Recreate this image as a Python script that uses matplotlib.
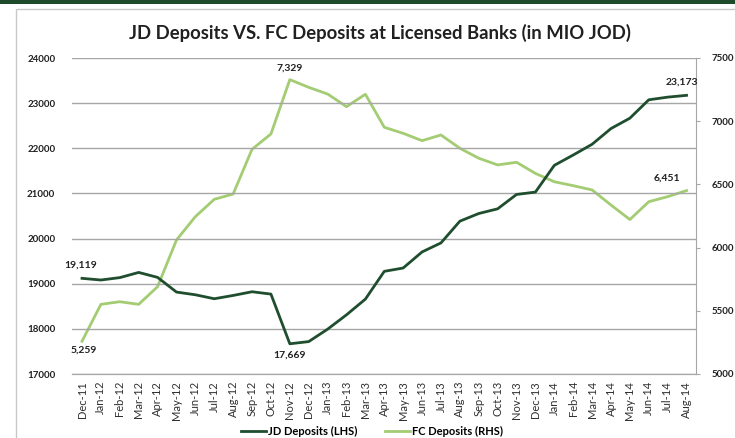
import matplotlib
matplotlib.use("Agg")
import matplotlib.pyplot as plt
from matplotlib.patches import Rectangle
from matplotlib.lines import Line2D

plt.rcParams['font.family'] = ['Lato', 'DejaVu Sans']

# meses (Dec-11 .. Aug-14)
months = ['Dec-11', 'Jan-12', 'Feb-12', 'Mar-12', 'Apr-12', 'May-12', 'Jun-12', 'Jul-12',
          'Aug-12', 'Sep-12', 'Oct-12', 'Nov-12', 'Dec-12', 'Jan-13', 'Feb-13', 'Mar-13',
          'Apr-13', 'May-13', 'Jun-13', 'Jul-13', 'Aug-13', 'Sep-13', 'Oct-13', 'Nov-13',
          'Dec-13', 'Jan-14', 'Feb-14', 'Mar-14', 'Apr-14', 'May-14', 'Jun-14', 'Jul-14',
          'Aug-14']

# JD deposits (LHS)
jd = [19119, 19082, 19135, 19250, 19140, 18815, 18755, 18667,
      18740, 18822, 18770, 17669, 17718, 17993, 18311, 18659,
      19274, 19348, 19704, 19904, 20385, 20555, 20659, 20977,
      21030, 21622, 21851, 22089, 22437, 22667, 23074, 23133,
      23173]

# FC deposits (RHS)
fc = [5259, 5551, 5572, 5551, 5691, 6060, 6245, 6382,
      6424, 6778, 6899, 7329, 7268, 7215, 7115, 7213,
      6952, 6904, 6846, 6891, 6786, 6707, 6654, 6675,
      6587, 6521, 6490, 6456, 6337, 6222, 6363, 6403,
      6451]

jd_color = '#1f4e2e'
fc_color = '#a3cc73'
x = list(range(len(months)))

fig = plt.figure(figsize=(7.35, 4.38), dpi=100)

# faixa verde no topo e moldura cinza
fig.patches.append(Rectangle((0, 1 - 4 / 438), 1, 4 / 438, transform=fig.transFigure,
                             facecolor='#1d4a2a', edgecolor='none', zorder=-5))
fig.patches.append(Rectangle((16 / 735, -0.01), 1, 1 - 9 / 438 + 0.01, transform=fig.transFigure,
                             facecolor='white', edgecolor='#c8c8c8', linewidth=1, zorder=-5))

ax = fig.add_axes([72 / 735, 1 - 374 / 438, 624 / 735, 316 / 438])
ax2 = ax.twinx()
ax.set_zorder(ax2.get_zorder() + 1)
ax.patch.set_visible(False)
ax2.patch.set_visible(False)

ax.plot(x, jd, color=jd_color, linewidth=2)
ax2.plot(x, fc, color=fc_color, linewidth=2)

ax.set_xlim(-0.53, 32.5)
ax.set_ylim(17000, 24000)
ax2.set_ylim(5000, 7500)
ax.set_yticks(range(17000, 24001, 1000))
ax2.set_yticks(range(5000, 7501, 500))

ax.grid(axis='y', color='#a6a6a6', linewidth=1)
ax.set_axisbelow(True)

for a in (ax, ax2):
    a.spines['top'].set_visible(False)
    a.spines['left'].set_visible(False)
    a.spines['right'].set_visible(False)
    a.spines['bottom'].set_color('#a6a6a6')
ax2.spines['right'].set_visible(True)
ax2.spines['right'].set_color('#a6a6a6')

ax.set_xticks(x)
ax.set_xticklabels(months, rotation=90, fontsize=8, color='#303030')
ax.tick_params(axis='x', length=0, pad=5)
ax.tick_params(axis='y', length=0, labelsize=7, pad=12, labelcolor='#202020')
ax2.tick_params(axis='y', length=3, color='#a6a6a6', labelsize=7, pad=8, labelcolor='#202020')
for lbl in ax.get_yticklabels() + ax2.get_yticklabels():
    lbl.set_fontweight('bold')

# rótulos dos pontos
lab = dict(fontsize=7.5, fontweight='bold', color='#202020')
ax.annotate(f'{jd[0]:,}', (x[0], jd[0]), xytext=(-1, 6), textcoords='offset points', ha='center', va='bottom', **lab)
ax.annotate(f'{jd[11]:,}', (x[11], jd[11]), xytext=(0, -5), textcoords='offset points', ha='center', va='top', **lab)
ax.annotate(f'{jd[-1]:,}', (x[-1], jd[-1]), xytext=(-3, 6), textcoords='offset points', ha='center', va='bottom', **lab)
ax2.annotate(f'{fc[0]:,}', (x[0], fc[0]), xytext=(1, -3), textcoords='offset points', ha='center', va='top', **lab)
ax2.annotate(f'{fc[11]:,}', (x[11], fc[11]), xytext=(0, 5), textcoords='offset points', ha='center', va='bottom', **lab)
ax2.annotate(f'{fc[-1]:,}', (x[-1], fc[-1]), xytext=(-14, 6), textcoords='offset points', ha='center', va='bottom', **lab)

fig.text(380 / 735, 1 - 33 / 438, 'JD Deposits VS. FC Deposits at Licensed Banks (in MIO JOD)',
         ha='center', va='center', fontsize=13.3, fontweight='bold', color='#202020')

handles = [Line2D([], [], color=jd_color, linewidth=2), Line2D([], [], color=fc_color, linewidth=2)]
fig.legend(handles, ['JD Deposits (LHS)', 'FC Deposits (RHS)'], loc='center',
           bbox_to_anchor=(372 / 735, 1 - 431 / 438), ncol=2, frameon=False,
           prop={'size': 8, 'weight': 'bold'}, handlelength=2.2, handletextpad=0.2, columnspacing=2.5)

fig.savefig('out.png', dpi=100)
